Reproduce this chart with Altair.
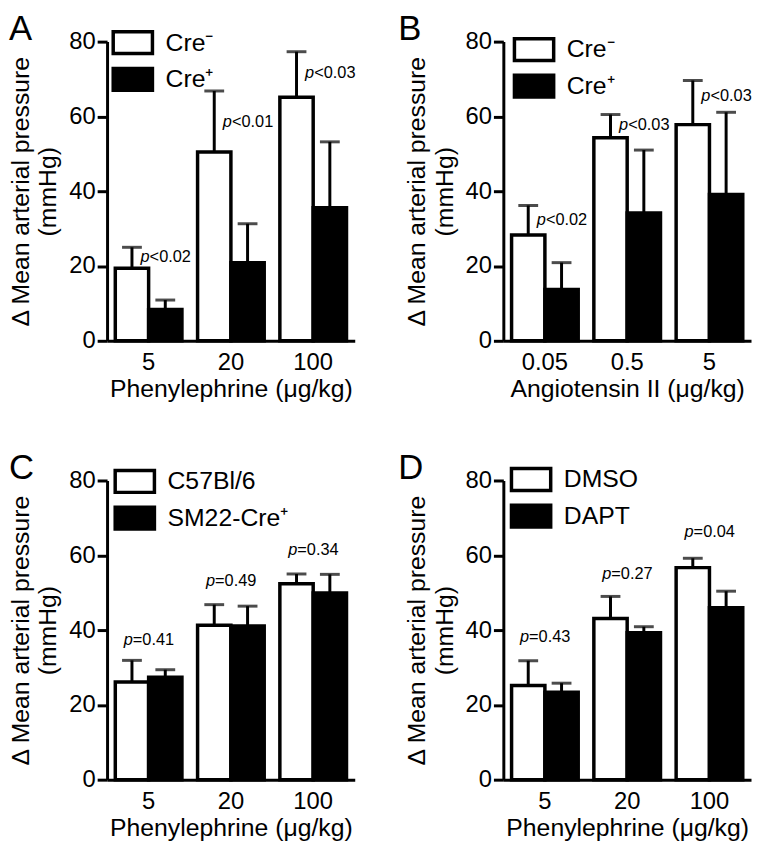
import altair as alt
import pandas as pd

FONT = "Liberation Sans"

# ---------------- data ----------------
# Panel A
a_doses = ["5", "20", "100"]
a_groups = ["Cre⁻", "Cre⁺"]
a_white = [19.4, 50.5, 65.1]
a_white_err = [5.6, 16.3, 12.2]
a_black = [8.4, 20.9, 35.6]
a_black_err = [2.5, 10.4, 17.6]
a_p = ["<0.02", "<0.01", "<0.03"]
a_p_y = [22.5, 58.5, 71.5]

# Panel B
b_doses = ["0.05", "0.5", "5"]
b_groups = ["Cre⁻", "Cre⁺"]
b_white = [28.3, 54.3, 57.8]
b_white_err = [7.9, 6.2, 11.8]
b_black = [13.7, 34.2, 39.1]
b_black_err = [7.2, 16.8, 22.0]
b_p = ["<0.02", "<0.03", "<0.03"]
b_p_y = [32.4, 57.6, 65.5]

# Panel C
c_doses = ["5", "20", "100"]
c_groups = ["C57Bl/6", "SM22-Cre⁺"]
c_white = [26.1, 41.3, 52.4]
c_white_err = [5.8, 5.5, 2.6]
c_black = [27.4, 41.1, 49.9]
c_black_err = [2.0, 5.3, 5.0]
c_p = ["=0.41", "=0.49", "=0.34"]
c_p_y = [37.4, 53.0, 61.4]

# Panel D
d_doses = ["5", "20", "100"]
d_groups = ["DMSO", "DAPT"]
d_white = [25.2, 43.1, 56.7]
d_white_err = [6.6, 5.9, 2.5]
d_black = [23.4, 39.3, 46.0]
d_black_err = [2.4, 1.6, 4.4]
d_p = ["=0.43", "=0.27", "=0.04"]
d_p_y = [38.2, 55.0, 66.3]

Y_TITLE = ["Δ Mean arterial pressure", "(mmHg)"]
Y_TICKS = [0, 20, 40, 60, 80]


def panel(letter, letter_x, doses, groups, white, white_err, black, black_err,
          p_text, p_y, x_title, pdx, leg_x, leg_y):
    rows = []
    for i, d in enumerate(doses):
        rows.append({"dose": d, "group": groups[0], "value": white[i],
                     "top": white[i] + white_err[i]})
        rows.append({"dose": d, "group": groups[1], "value": black[i],
                     "top": black[i] + black_err[i]})
    df = pd.DataFrame(rows)
    pdf = pd.DataFrame({"dose": doses, "ptext": p_text, "py": p_y})

    def xenc():
        return alt.X("dose:N", sort=doses,
                     scale=alt.Scale(paddingInner=0.19, paddingOuter=0.1),
                     axis=alt.Axis(title=x_title, ticks=False, labelAngle=0,
                                   labelPadding=10, titlePadding=2))

    def xoff():
        return alt.XOffset("group:N", sort=groups,
                           scale=alt.Scale(paddingInner=0, paddingOuter=0))

    def yenc(field):
        return alt.Y(field + ":Q",
                     scale=alt.Scale(domain=[0, 80], nice=False),
                     axis=alt.Axis(title=Y_TITLE, values=Y_TICKS,
                                   labelPadding=2, titlePadding=8,
                                   titleLineHeight=28))

    bars = alt.Chart(df).mark_bar(stroke="black", strokeWidth=3.5).encode(
        x=xenc(), xOffset=xoff(), y=yenc("value"),
        fill=alt.Fill("group:N", sort=groups,
                      scale=alt.Scale(domain=groups, range=["white", "black"]),
                      title=None,
                      legend=alt.Legend(orient="none", legendX=leg_x, legendY=leg_y,
                                        symbolType="M-1.8,-1L1.8,-1L1.8,1L-1.8,1Z",
                                        symbolSize=484, symbolStrokeWidth=3.5,
                                        symbolStrokeColor="black",
                                        labelFont=FONT, labelFontSize=25,
                                        labelColor="black", labelOffset=20,
                                        rowPadding=1, padding=0)),
    )
    rules = alt.Chart(df).mark_rule(color="black", strokeWidth=3).encode(
        x=xenc(), xOffset=xoff(), y=yenc("value"), y2="top:Q")
    caps = alt.Chart(df).mark_tick(color="black", size=20, thickness=3).encode(
        x=xenc(), xOffset=xoff(), y=yenc("top"))
    p_it = alt.Chart(pdf).mark_text(text="p", fontStyle="italic", align="right",
                                    baseline="middle", dx=pdx, fontSize=16.5,
                                    font=FONT, color="black").encode(
        x=xenc(), y=yenc("py"))
    p_rest = alt.Chart(pdf).mark_text(align="left", baseline="middle", dx=pdx,
                                      fontSize=16.5, font=FONT, color="black").encode(
        x=xenc(), y=yenc("py"), text="ptext:N")
    lab = alt.Chart(pd.DataFrame({"letter": [letter]})).mark_text(
        align="left", baseline="alphabetic", fontSize=35, font=FONT,
        color="black").encode(text="letter:N", x=alt.value(letter_x),
                              y=alt.value(-2))
    return alt.layer(bars, rules, caps, p_it, p_rest, lab).properties(
        width=250, height=302)


pA = panel("A", -99, a_doses, a_groups, a_white, a_white_err, a_black, a_black_err,
           a_p, a_p_y, "Phenylephrine (μg/kg)", 1, 13, -12)
pB = panel("B", -106, b_doses, b_groups, b_white, b_white_err, b_black, b_black_err,
           b_p, b_p_y, "Angiotensin II (μg/kg)", 1, 18, -5)
pC = panel("C", -99, c_doses, c_groups, c_white, c_white_err, c_black, c_black_err,
           c_p, c_p_y, "Phenylephrine (μg/kg)", -16, 15, -12)
pD = panel("D", -106, d_doses, d_groups, d_white, d_white_err, d_black, d_black_err,
           d_p, d_p_y, "Phenylephrine (μg/kg)", -16, 15, -14)

chart = alt.concat(pA, pB, pC, pD, columns=2, bounds="flush",
                   spacing={"row": 141, "column": 150}).resolve_scale(
    fill="independent", x="independent", xOffset="independent"
).resolve_legend(fill="independent").properties(
    padding=0
).configure_view(strokeWidth=0).configure_axis(
    domainColor="black", domainWidth=3, tickColor="black", tickWidth=3,
    tickSize=10, labelFont=FONT, labelFontSize=24, labelColor="black",
    titleFont=FONT, titleFontSize=25, titleFontWeight="normal",
    titleColor="black", grid=False
)

chart.save("out.html", embed_options={"renderer": "svg", "actions": False})
